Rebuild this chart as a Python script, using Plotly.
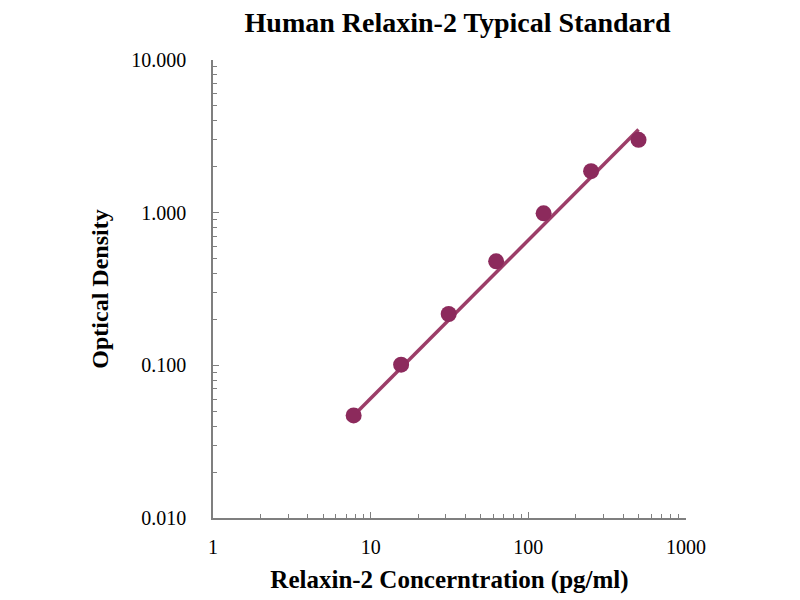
import plotly.graph_objects as go

# Standard curve data
conc = [7.8, 15.6, 31.25, 62.5, 125, 250, 500]
od = [0.047, 0.101, 0.217, 0.48, 0.99, 1.87, 3.0]

# fitted line end points (straight on log-log)
fit_conc = [7.8, 500]
fit_od = [0.047, 3.5]

x_ticks = [1, 10, 100, 1000]
x_tick_text = ["1", "10", "100", "1000"]
y_ticks = [0.01, 0.1, 1, 10]
y_tick_text = ["0.010", "0.100", "1.000", "10.000"]

serif = "Liberation Serif, Times New Roman, serif"
point_color = "#8c2a5c"
line_color = "#9c3d68"
axis_color = "#7f7f7f"


def minor_log_ticks(lo, hi):
    # 2..9 within each decade between 10**lo and 10**hi
    vals = []
    for d in range(lo, hi):
        vals += [m * 10.0 ** d for m in range(2, 10)]
    return vals


fig = go.Figure()

fig.add_trace(go.Scatter(
    x=fit_conc, y=fit_od,
    mode="lines",
    line=dict(color=line_color, width=3.5),
    showlegend=False,
))

fig.add_trace(go.Scatter(
    x=conc, y=od,
    mode="markers",
    marker=dict(color=point_color, size=16),
    showlegend=False,
))

axis_common = dict(
    showgrid=False,
    zeroline=False,
    showline=True,
    linecolor=axis_color,
    linewidth=1.5,
    ticks="inside",
    ticklen=6,
    tickcolor=axis_color,
    automargin=False,
    tickfont=dict(family=serif, size=20, color="black"),
)

fig.update_xaxes(
    type="log",
    range=[0, 3],
    tickvals=x_ticks,
    ticktext=x_tick_text,
    ticklabelstandoff=10,
    minor=dict(tickmode="array", tickvals=minor_log_ticks(0, 3),
               ticks="inside", ticklen=4, tickcolor=axis_color),
    title=dict(text="<b>Relaxin-2 Concerntration (pg/ml)</b>",
               font=dict(family=serif, size=25, color="black"), standoff=14),
    **axis_common,
)
fig.update_yaxes(
    type="log",
    range=[-2, 1],
    tickvals=y_ticks,
    ticktext=y_tick_text,
    ticklabelstandoff=21,
    minor=dict(tickmode="array", tickvals=minor_log_ticks(-2, 1),
               ticks="inside", ticklen=4, tickcolor=axis_color),
    title=dict(text="<b>Optical Density</b>",
               font=dict(family=serif, size=24, color="black"), standoff=16),
    **axis_common,
)

# the page adds an 8px body margin, so margins are shifted to compensate
fig.update_layout(
    width=800,
    height=600,
    margin=dict(l=205, r=122, t=52, b=90),
    paper_bgcolor="white",
    plot_bgcolor="white",
    title=dict(text="<b>Human Relaxin-2 Typical Standard</b>",
               font=dict(family=serif, size=28, color="black"),
               x=0.562, xanchor="center", y=1.0, yanchor="top", pad=dict(t=4)),
)

fig.write_html("out.html")
